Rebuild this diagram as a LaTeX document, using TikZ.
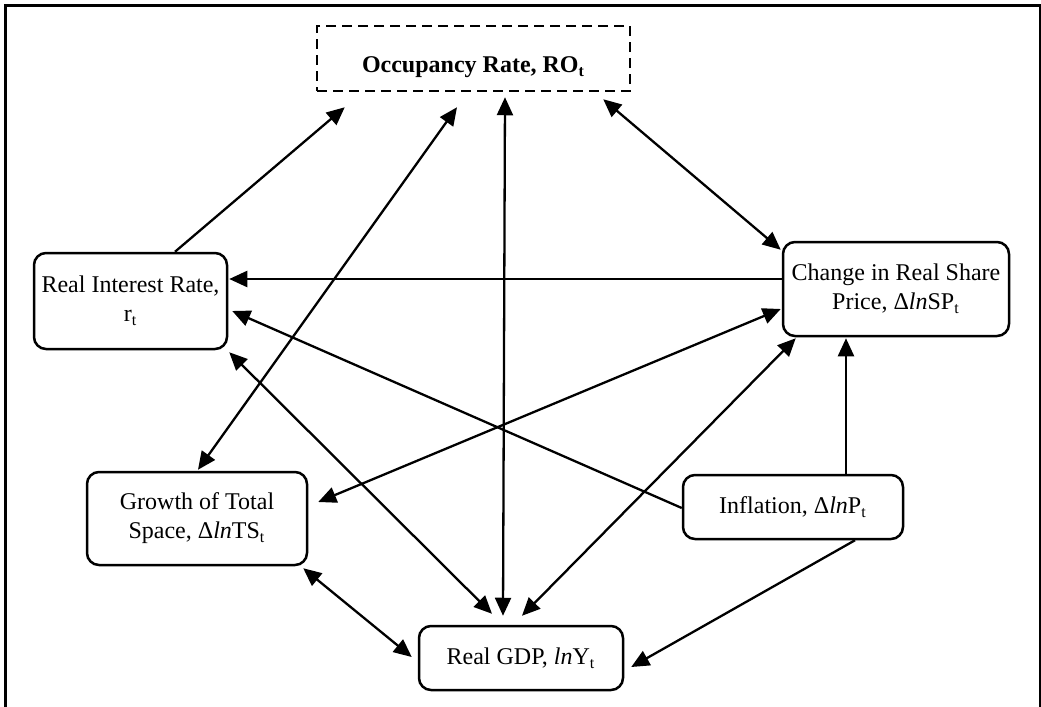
\documentclass[tikz,border=0pt]{standalone}
\usepackage{fontspec}
\setmainfont{Liberation Serif}
\usetikzlibrary{arrows.meta,calc}
\begin{document}
\begin{tikzpicture}[x=0.5pt,y=-0.5pt,
  box/.style={draw, line width=1.25pt, rounded corners=6pt, align=center, inner sep=0pt,
    font=\fontsize{12}{14.5}\selectfont},
  conn/.style={line width=1.15pt, -{Triangle[length=9pt,width=8pt]}},
  biconn/.style={line width=1.15pt, {Triangle[length=9pt,width=8pt]}-{Triangle[length=9pt,width=8pt]}}]
\useasboundingbox (0,0) rectangle (1041,707);
\draw[line width=1.2pt] (5.5,720) -- (5.5,5.5) -- (1040.5,5.5) -- (1040.5,720);

\node[box, rounded corners=0pt, dash pattern=on 5pt off 3pt, minimum width=156.5pt, minimum height=32.5pt,
  text height=14pt, text depth=0pt,
  font=\fontsize{12}{14.5}\selectfont\bfseries] (ro) at (473.5,58.5) {Occupancy Rate, RO\textsubscript{t}};
\node[box, minimum width=96.5pt, minimum height=48pt] (rir) at (130.5,301) {Real Interest Rate,\\ r\textsubscript{t}};
\node[box, minimum width=113pt, minimum height=47pt] (crsp) at (896,289) {Change in Real Share\\ Price, Δ\textit{ln}SP\textsubscript{t}};
\node[box, minimum width=110pt, minimum height=46.5pt] (gts) at (197,518.5) {Growth of Total\\ Space, Δ\textit{ln}TS\textsubscript{t}};
\node[box, minimum width=110pt, minimum height=32pt] (infl) at (793,507) {Inflation, Δ\textit{ln}P\textsubscript{t}};
\node[box, minimum width=102pt, minimum height=32pt] (gdp) at (521,658) {Real GDP, \textit{ln}Y\textsubscript{t}};

% connectors
\draw[conn] ($(rir.north)+(44.5,0)$) -- ($(ro.south west)+(29,15)$);
\draw[biconn] ($(gts.north)+(1,-1)$) -- ($(ro.south)+(-16.5,15)$);
\draw[biconn] ($(gdp.north)+(-18,-9)$) -- ($(ro.south)+(31.5,5)$);
\draw[biconn] ($(ro.south east)+(-28,7)$) -- ($(crsp.north west)+(-1,9)$);
\draw[conn] ($(crsp.west)+(0,-10)$) -- ($(rir.east)+(1,-22)$);
\draw[conn] ($(infl.west)+(0,1)$) -- ($(rir.east)+(4,10)$);
\draw[biconn] ($(rir.south east)+(1,2)$) -- ($(gdp.north)+(-29,-11)$);
\draw[biconn] ($(gts.east)+(10,-16.5)$) -- ($(crsp.west)+(-1,20)$);
\draw[biconn] ($(gdp.north)+(1,-9)$) -- ($(crsp.south west)+(14,1)$);
\draw[conn] ($(infl.north)+(53,0)$) -- ($(crsp.south)+(-50,1)$);
\draw[biconn] ($(gts.south east)+(-5,2)$) -- ($(gdp.west)+(-6,-1)$);
\draw[conn] ($(infl.south)+(62,0)$) -- ($(gdp.east)+(7,9)$);
\end{tikzpicture}
\end{document}
